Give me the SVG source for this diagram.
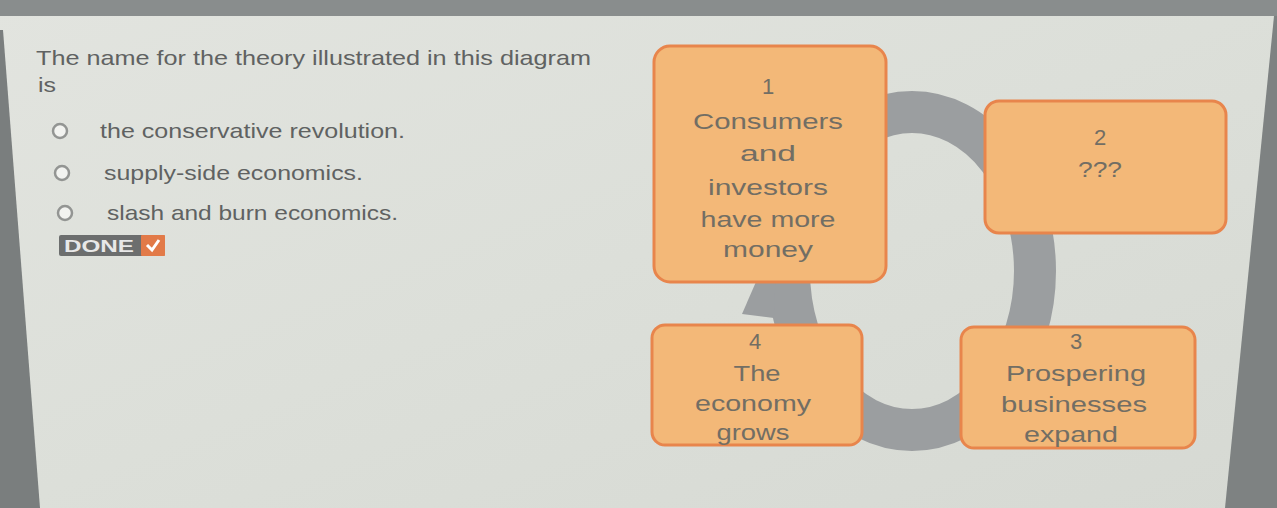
<svg xmlns="http://www.w3.org/2000/svg" width="1277" height="508" viewBox="0 0 1277 508">
<defs>
<linearGradient id="scr" x1="0" y1="0" x2="1" y2="1">
<stop offset="0" stop-color="#e2e4df"/>
<stop offset="0.5" stop-color="#dcdfd9"/>
<stop offset="1" stop-color="#d6d9d3"/>
</linearGradient>
<style>
.q{font-family:"Liberation Sans",Arial,sans-serif;font-size:21px;fill:#606262}
.bx{fill:#f3b878;stroke:#e8854c;stroke-width:3}
.bt{font-family:"Liberation Sans",Arial,sans-serif;font-size:22px;fill:#726e64;text-anchor:middle}
.radio{fill:#f2f3f0;stroke:#939593;stroke-width:2.5}
.band{fill:none;stroke:#9b9ea0;stroke-width:42}
</style>
</defs>
<rect x="0" y="0" width="1277" height="508" fill="url(#scr)"/>
<rect x="0" y="0" width="1277" height="16" fill="#898d8d"/>
<polygon points="1274,16 1277,16 1277,508 1225,508" fill="#7e8282"/>
<polygon points="0,30 3,30 40,508 0,508" fill="#7a7e7e"/>

<g id="question">
<text class="q" x="36" y="65" textLength="555" lengthAdjust="spacingAndGlyphs">The name for the theory illustrated in this diagram</text>
<text class="q" x="38" y="92" textLength="18" lengthAdjust="spacingAndGlyphs">is</text>
<circle class="radio" cx="60" cy="131" r="7"/>
<text class="q" x="100" y="138" textLength="305" lengthAdjust="spacingAndGlyphs">the conservative revolution.</text>
<circle class="radio" cx="62" cy="173" r="7"/>
<text class="q" x="104" y="180" textLength="259" lengthAdjust="spacingAndGlyphs">supply-side economics.</text>
<circle class="radio" cx="65" cy="213" r="7"/>
<text class="q" x="107" y="220" textLength="291" lengthAdjust="spacingAndGlyphs">slash and burn economics.</text>
</g>

<g id="done">
<rect x="59" y="235" width="106" height="21" rx="2" fill="#6c6e6e"/>
<rect x="141" y="235" width="24" height="21" rx="1" fill="#e27a48"/>
<polyline points="147,245 152,250 159,240" fill="none" stroke="#ffffff" stroke-width="3"/>
<text x="64" y="252" font-family="Liberation Sans,Arial,sans-serif" font-weight="bold" font-size="16" fill="#e8e8e8" textLength="70" lengthAdjust="spacingAndGlyphs">DONE</text>
</g>

<g id="connectors">
<ellipse class="band" cx="912" cy="271" rx="123" ry="159"/>
<polygon points="742,314 774,318 776,268 762,268" fill="#9b9ea0"/>
</g>

<g id="node1">
<rect class="bx" x="654" y="46" width="232" height="236" rx="16"/>
<text class="bt" x="768" y="94">1</text>
<text class="bt" x="768" y="129" textLength="150" lengthAdjust="spacingAndGlyphs">Consumers</text>
<text class="bt" x="768" y="161" textLength="56" lengthAdjust="spacingAndGlyphs">and</text>
<text class="bt" x="768" y="195" textLength="120" lengthAdjust="spacingAndGlyphs">investors</text>
<text class="bt" x="768" y="227" textLength="135" lengthAdjust="spacingAndGlyphs">have more</text>
<text class="bt" x="768" y="257" textLength="90" lengthAdjust="spacingAndGlyphs">money</text>
</g>

<g id="node2">
<rect class="bx" x="985" y="101" width="241" height="132" rx="14"/>
<text class="bt" x="1100" y="145">2</text>
<text class="bt" x="1100" y="177" textLength="44" lengthAdjust="spacingAndGlyphs">???</text>
</g>

<g id="node3">
<rect class="bx" x="961" y="327" width="234" height="121" rx="13"/>
<text class="bt" x="1076" y="349">3</text>
<text class="bt" x="1076" y="381" textLength="140" lengthAdjust="spacingAndGlyphs">Prospering</text>
<text class="bt" x="1074" y="412" textLength="146" lengthAdjust="spacingAndGlyphs">businesses</text>
<text class="bt" x="1071" y="442" textLength="94" lengthAdjust="spacingAndGlyphs">expand</text>
</g>

<g id="node4">
<rect class="bx" x="652" y="325" width="210" height="120" rx="13"/>
<text class="bt" x="755" y="349">4</text>
<text class="bt" x="757" y="381" textLength="47" lengthAdjust="spacingAndGlyphs">The</text>
<text class="bt" x="753" y="411" textLength="116" lengthAdjust="spacingAndGlyphs">economy</text>
<text class="bt" x="753" y="440" textLength="73" lengthAdjust="spacingAndGlyphs">grows</text>
</g>
</svg>
